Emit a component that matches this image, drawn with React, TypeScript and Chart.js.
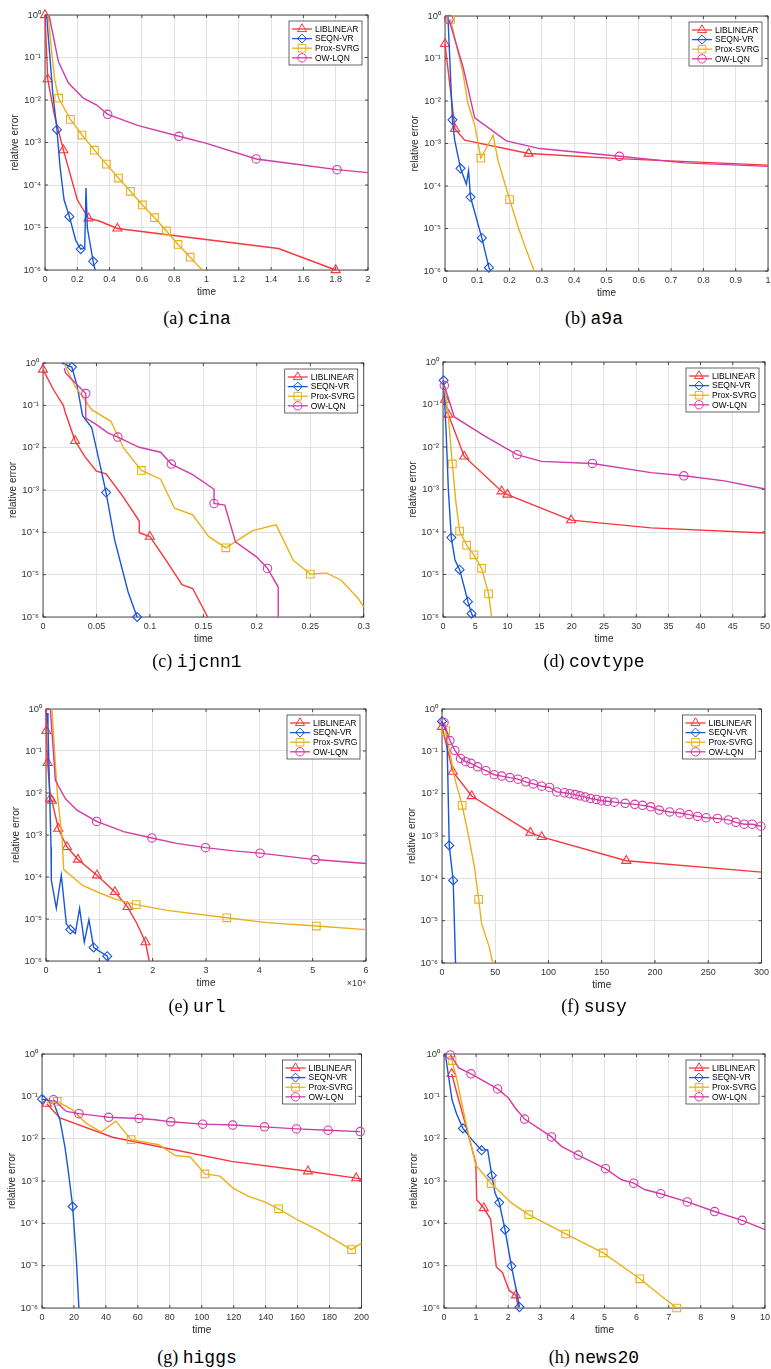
import { useEffect, useRef } from "react";
import { Chart, registerables } from "chart.js";
Chart.register(...registerables);

type Pt = [number, number, number]; // [time, relative error, marker?]

const seriesNames = ["LIBLINEAR", "SEQN-VR", "Prox-SVRG", "OW-LQN"];
const seriesColors = ["#f7363d", "#1a56d8", "#e9b01a", "#d23ca6"];
const seriesMarkers = ["triangle", "rectRot", "rect", "circle"];
const markerRadius = [5.2, 4.5, 5.4, 4.2];
const yDecades = [1e-6, 1e-5, 1e-4, 1e-3, 1e-2, 1e-1, 1];

// (a) cina
const cinaXTicks = [0, 0.2, 0.4, 0.6, 0.8, 1, 1.2, 1.4, 1.6, 1.8, 2];
const cinaLIB: Pt[] = [[0, 1, 1], [0.017, 0.031, 1], [0.058, 4.5e-3, 0], [0.114, 6.6e-4, 1], [0.2, 4.5e-5, 0], [0.269, 1.65e-5, 1], [0.34, 1.4e-5, 0], [0.448, 9.5e-6, 1], [1.446, 3.2e-6, 0], [1.8, 1e-6, 1]];
const cinaSEQN: Pt[] = [[0.01, 1, 0], [0.027, 0.15, 0], [0.048, 0.0145, 0], [0.074, 2e-3, 1], [0.093, 2.7e-4, 0], [0.118, 4.5e-5, 0], [0.151, 1.8e-5, 1], [0.19, 5e-6, 0], [0.221, 3.1e-6, 1], [0.246, 3.3e-6, 0], [0.254, 8.5e-5, 0], [0.262, 1e-5, 0], [0.298, 1.6e-6, 1], [0.31, 1e-6, 0]];
const cinaPROX: Pt[] = [[0.02, 1, 0], [0.04, 0.15, 0], [0.06, 0.03, 0], [0.085, 0.011, 1], [0.157, 3.5e-3, 1], [0.229, 1.5e-3, 1], [0.306, 6.6e-4, 1], [0.38, 3.1e-4, 1], [0.455, 1.46e-4, 1], [0.529, 7.1e-5, 1], [0.603, 3.4e-5, 1], [0.678, 1.7e-5, 1], [0.752, 8.3e-6, 1], [0.824, 4e-6, 1], [0.899, 2e-6, 1], [0.973, 1e-6, 0]];
const cinaOW: Pt[] = [[0.025, 1, 0], [0.083, 0.08, 0], [0.145, 0.025, 0], [0.238, 0.011, 0], [0.32, 7.6e-3, 0], [0.388, 4.6e-3, 1], [0.578, 2.5e-3, 0], [0.829, 1.4e-3, 1], [1.0, 9.5e-4, 0], [1.308, 4.1e-4, 1], [1.58, 3e-4, 0], [1.808, 2.3e-4, 1], [2, 1.95e-4, 0]];

// (b) a9a
const a9aXTicks = [0, 0.1, 0.2, 0.3, 0.4, 0.5, 0.6, 0.7, 0.8, 0.9, 1];
const a9aLIB: Pt[] = [[0.0, 0.22, 1], [0.031, 2.2e-3, 1], [0.061, 1.2e-3, 0], [0.259, 5.8e-4, 1], [0.535, 4.4e-4, 0], [1, 3.1e-4, 0]];
const a9aSEQN: Pt[] = [[0.009, 1, 0], [0.023, 3.6e-3, 1], [0.03, 1.2e-3, 0], [0.048, 2.6e-4, 1], [0.066, 1.1e-4, 0], [0.073, 2.3e-4, 0], [0.079, 5.5e-5, 1], [0.114, 6e-6, 1], [0.136, 1.2e-6, 1], [0.141, 1e-6, 0]];
const a9aPROX: Pt[] = [[0.017, 0.83, 1], [0.056, 0.044, 0], [0.071, 8.7e-3, 0], [0.092, 2.7e-3, 0], [0.111, 4.5e-4, 1], [0.149, 1.56e-3, 0], [0.164, 4e-4, 0], [0.2, 4.8e-5, 1], [0.226, 1.1e-5, 0], [0.252, 3.1e-6, 0], [0.276, 1e-6, 0]];
const a9aOW: Pt[] = [[0.012, 0.83, 1], [0.056, 0.063, 0], [0.092, 4e-3, 0], [0.19, 1.15e-3, 0], [0.293, 7.6e-4, 0], [0.54, 5e-4, 1], [0.742, 3.5e-4, 0], [1, 2.9e-4, 0]];

// (c) ijcnn1
const ijcnnXTicks = [0, 0.05, 0.1, 0.15, 0.2, 0.25, 0.3];
const ijcnnLIB: Pt[] = [[0, 0.7, 1], [0.01, 0.23, 0], [0.019, 0.1, 0], [0.021, 0.066, 0], [0.03, 0.0145, 1], [0.039, 6.2e-3, 0], [0.05, 2.8e-3, 0], [0.059, 2.4e-3, 0], [0.075, 6.9e-4, 0], [0.09, 1.85e-4, 0], [0.09, 9.8e-5, 0], [0.1, 7.9e-5, 1], [0.115, 2.2e-5, 0], [0.13, 5.8e-6, 0], [0.14, 4.7e-6, 0], [0.154, 1e-6, 0]];
const ijcnnSEQN: Pt[] = [[0.0176, 1, 0], [0.027, 0.8, 1], [0.032, 0.28, 0], [0.037, 0.057, 0], [0.0455, 0.03, 0], [0.053, 4.3e-3, 0], [0.059, 8.7e-4, 1], [0.067, 6.6e-5, 0], [0.0796, 3.9e-6, 0], [0.088, 1e-6, 1]];
const ijcnnPROX: Pt[] = [[0.02, 0.95, 0], [0.03, 0.28, 0], [0.0455, 0.079, 0], [0.0635, 0.042, 0], [0.0755, 9.7e-3, 0], [0.092, 2.9e-3, 1], [0.11, 1.8e-3, 0], [0.123, 3.7e-4, 0], [0.14, 2.6e-4, 0], [0.155, 7.9e-5, 0], [0.171, 4.3e-5, 1], [0.196, 1.1e-4, 0], [0.218, 1.5e-4, 0], [0.234, 2.2e-5, 0], [0.25, 1.03e-5, 1], [0.265, 1.1e-5, 0], [0.279, 7.4e-6, 0], [0.295, 2.7e-6, 0], [0.3, 1.7e-6, 0]];
const ijcnnOW: Pt[] = [[0.02, 0.76, 0], [0.021, 0.58, 0], [0.04, 0.19, 1], [0.04, 0.05, 0], [0.05, 0.035, 0], [0.061, 0.022, 0], [0.07, 0.0178, 1], [0.09, 0.0102, 0], [0.11, 7.8e-3, 0], [0.12, 4.1e-3, 1], [0.14, 2.3e-3, 0], [0.16, 1.04e-3, 0], [0.16, 4.8e-4, 1], [0.17, 4.4e-4, 0], [0.18, 6e-5, 0], [0.2, 2.6e-5, 0], [0.21, 1.4e-5, 1], [0.22, 5.1e-6, 0], [0.22, 1e-6, 0]];

// (d) covtype
const covXTicks = [0, 5, 10, 15, 20, 25, 30, 35, 40, 45, 50];
const covLIB: Pt[] = [[0.31, 0.13, 1], [0.83, 0.058, 1], [3.3, 6e-3, 1], [9.1, 9.1e-4, 1], [10, 7.6e-4, 1], [19.9, 1.9e-4, 1], [32.3, 1.25e-4, 0], [50, 9.5e-5, 0]];
const covSEQN: Pt[] = [[0.1, 0.37, 1], [0.5, 0.02, 0], [0.83, 1e-3, 0], [1.29, 7.4e-5, 1], [1.86, 2.2e-5, 0], [2.58, 1.3e-5, 1], [3.4, 4.4e-6, 0], [3.87, 2.3e-6, 1], [4.44, 1.2e-6, 1], [4.7, 1e-6, 0]];
const covPROX: Pt[] = [[0.2, 0.29, 0], [0.83, 0.052, 0], [1.45, 4e-3, 1], [1.96, 5.8e-4, 0], [2.58, 1.05e-4, 1], [3.67, 4.9e-5, 1], [4.8, 2.9e-5, 1], [5.99, 1.4e-5, 1], [7.08, 3.5e-6, 1], [7.54, 1e-6, 0]];
const covOW: Pt[] = [[0.2, 0.28, 1], [1.76, 0.051, 0], [6.5, 0.018, 0], [11.5, 6.6e-3, 1], [15.3, 4.6e-3, 0], [23.2, 4.1e-3, 1], [32.3, 2.5e-3, 0], [37.4, 2.1e-3, 1], [43.7, 1.6e-3, 0], [50, 1.03e-3, 0]];

// (e) url
const urlXTicks = [0, 10000, 20000, 30000, 40000, 50000, 60000];
const urlLIB: Pt[] = [[0, 1, 0], [60, 0.3, 1], [310, 0.052, 1], [810, 7.4e-3, 1], [1100, 6.6e-3, 1], [2310, 1.42e-3, 1], [3930, 5.2e-4, 1], [5990, 2.6e-4, 1], [9550, 1.1e-4, 1], [12920, 4.4e-5, 1], [15290, 1.94e-5, 1], [17040, 7.8e-6, 0], [18660, 2.8e-6, 1], [19350, 1e-6, 0]];
const urlSEQN: Pt[] = [[190, 0.8, 0], [370, 0.38, 0], [940, 5.2e-4, 0], [1000, 8.4e-5, 0], [1935, 1.8e-5, 0], [2870, 1.1e-4, 0], [3810, 7.8e-6, 0], [4560, 5.6e-6, 1], [5490, 4.5e-6, 0], [6300, 1.8e-5, 0], [7180, 2.8e-6, 0], [8050, 9.6e-6, 0], [8930, 2.1e-6, 1], [11490, 1.3e-6, 1], [11700, 1e-6, 0]];
const urlPROX: Pt[] = [[1120, 1, 0], [1750, 0.05, 0], [2180, 8.1e-3, 0], [3000, 9.1e-4, 0], [3310, 1.5e-4, 0], [6870, 6.3e-5, 0], [10180, 4.1e-5, 0], [13300, 2.9e-5, 0], [16920, 2.2e-5, 1], [22660, 1.6e-5, 0], [33900, 1.07e-5, 1], [41390, 8.2e-6, 0], [50690, 6.8e-6, 1], [60000, 5.6e-6, 0]];
const urlOW: Pt[] = [[810, 1, 0], [1750, 0.02, 0], [3620, 7.4e-3, 0], [5800, 3.9e-3, 0], [9490, 2.1e-3, 1], [14540, 1.2e-3, 0], [19850, 8.5e-4, 1], [24530, 6.3e-4, 0], [29900, 5e-4, 1], [35140, 4.2e-4, 0], [40140, 3.7e-4, 1], [50440, 2.6e-4, 1], [60000, 2.1e-4, 0]];

// (f) susy
const susyXTicks = [0, 50, 100, 150, 200, 250, 300];
const susyLIB: Pt[] = [[0, 0.38, 1], [10.2, 0.033, 1], [27.9, 8.8e-3, 1], [83, 1.2e-3, 1], [93.6, 9.5e-4, 1], [173, 2.6e-4, 1], [300, 1.4e-4, 0]];
const susySEQN: Pt[] = [[0, 0.51, 1], [4.6, 0.27, 0], [6.8, 6e-4, 1], [10.5, 8.9e-5, 1], [12.7, 1e-6, 0]];
const susyPROX: Pt[] = [[3.4, 0.31, 1], [8.1, 0.074, 0], [12.4, 0.021, 0], [18.9, 5.3e-3, 1], [24.8, 1.05e-3, 0], [30.4, 1.9e-4, 0], [34.4, 3.2e-5, 1], [37.2, 8.5e-6, 0], [44.3, 2.4e-6, 0], [47.7, 1e-6, 0]];
const susyOW: Pt[] = [[1.9, 0.48, 1], [7.4, 0.18, 1], [12.1, 0.105, 1], [17.4, 0.068, 1], [22.3, 0.057, 1], [27.3, 0.052, 1], [33.5, 0.043, 1], [41.2, 0.035, 1], [49, 0.028, 1], [56.1, 0.026, 1], [63.8, 0.024, 1], [71.3, 0.022, 1], [78.7, 0.019, 1], [85.8, 0.017, 1], [93.6, 0.015, 1], [101, 0.014, 1], [107.8, 0.011, 1], [115, 0.0105, 1], [120, 0.01, 1], [125, 0.0095, 1], [129.5, 0.0089, 1], [134.5, 0.0083, 1], [139.4, 0.0077, 1], [145, 0.0073, 1], [150, 0.0068, 1], [155.3, 0.0066, 1], [161.8, 0.0063, 1], [172, 0.0059, 1], [181, 0.0056, 1], [188.4, 0.0053, 1], [196, 0.0049, 1], [204, 0.0041, 1], [213.8, 0.0037, 1], [223.4, 0.0035, 1], [231.8, 0.0032, 1], [240, 0.0029, 1], [248, 0.0027, 1], [258.7, 0.0026, 1], [269, 0.0024, 1], [276, 0.0021, 1], [283.8, 0.0019, 1], [291.3, 0.0019, 1], [299.4, 0.0017, 1]];

// (g) higgs
const higgsXTicks = [0, 20, 40, 60, 80, 100, 120, 140, 160, 180, 200];
const higgsLIB: Pt[] = [[3, 0.067, 1], [11.2, 0.031, 0], [44.2, 0.0108, 0], [77.3, 6e-3, 0], [118.6, 2.9e-3, 0], [166.5, 1.7e-3, 1], [196.7, 1.17e-3, 1], [200, 1.1e-3, 0]];
const higgsSEQN: Pt[] = [[0, 0.086, 1], [7, 0.076, 0], [11.2, 0.028, 0], [14.3, 6.6e-3, 0], [16.3, 1.9e-3, 0], [19.2, 2.5e-4, 1], [21.5, 1.4e-5, 0], [23.1, 1e-6, 0]];
const higgsPROX: Pt[] = [[2.9, 0.072, 0], [9.5, 0.076, 1], [18.4, 0.05, 0], [27.7, 0.023, 0], [37, 0.0144, 0], [46.3, 0.026, 0], [55.8, 9.5e-3, 1], [73.1, 7.2e-3, 0], [83.5, 4e-3, 0], [92.8, 3.7e-3, 0], [102, 1.47e-3, 1], [111.4, 1.3e-3, 0], [119.6, 6.8e-4, 0], [129, 4.4e-4, 0], [139.3, 3.2e-4, 0], [148.1, 2.2e-4, 1], [160, 1.2e-4, 0], [172.3, 7.1e-5, 0], [193.8, 2.4e-5, 1], [200, 3.4e-5, 0]];
const higgsOW: Pt[] = [[7.2, 0.083, 1], [15.3, 0.044, 0], [23.1, 0.039, 1], [36, 0.034, 0], [41.7, 0.032, 1], [60.7, 0.03, 1], [71, 0.028, 0], [80.6, 0.025, 1], [100.6, 0.022, 1], [119.4, 0.021, 1], [139.3, 0.019, 1], [159.3, 0.017, 1], [179.1, 0.0158, 1], [199.2, 0.0147, 1]];

// (h) news20
const newsXTicks = [0, 1, 2, 3, 4, 5, 6, 7, 8, 9, 10];
const newsLIB: Pt[] = [[0.24, 0.34, 1], [0.4, 0.12, 0], [0.66, 0.023, 0], [0.99, 2.7e-3, 0], [1.02, 3.6e-4, 0], [1.24, 2.3e-4, 1], [1.45, 1.26e-4, 0], [1.63, 9.3e-6, 0], [1.82, 6.9e-6, 0], [2.03, 2.6e-6, 0], [2.24, 2e-6, 1], [2.32, 1e-6, 0]];
const newsSEQN: Pt[] = [[0.04, 1, 0], [0.25, 0.083, 0], [0.4, 0.037, 0], [0.59, 0.0175, 1], [0.87, 9.5e-3, 0], [1.17, 5.3e-3, 1], [1.36, 5.5e-3, 0], [1.49, 1.35e-3, 1], [1.59, 5.2e-4, 0], [1.72, 3.1e-4, 1], [1.9, 7.1e-5, 1], [2.1, 9.8e-6, 1], [2.25, 2.7e-6, 0], [2.35, 1.05e-6, 1]];
const newsPROX: Pt[] = [[0.2, 1, 0], [0.25, 0.7, 1], [0.4, 0.25, 0], [0.66, 0.028, 0], [0.99, 2.4e-3, 0], [1.47, 8.7e-4, 1], [2.11, 3e-4, 0], [2.64, 1.6e-4, 1], [3.79, 5.6e-5, 1], [4.96, 2e-5, 1], [6.1, 4.9e-6, 1], [6.67, 2.2e-6, 0], [7.25, 1e-6, 1]];
const newsOW: Pt[] = [[0.2, 0.95, 1], [0.46, 0.47, 0], [0.84, 0.34, 1], [1.67, 0.15, 1], [2.01, 0.091, 0], [2.22, 0.053, 0], [2.51, 0.029, 1], [3.35, 0.011, 1], [3.66, 6.6e-3, 0], [4.18, 4.1e-3, 1], [5.03, 1.95e-3, 1], [5.53, 1.07e-3, 0], [5.91, 8.9e-4, 1], [6.25, 6.3e-4, 0], [6.75, 5e-4, 1], [7.58, 3.2e-4, 1], [8.43, 1.9e-4, 1], [9.29, 1.18e-4, 1], [10, 7.1e-5, 0]];

type PanelDef = {
  letter: string; name: string; series: Pt[][]; xTicks: number[]; xFactor: number;
  L: number; R: number; T: number; B: number; capX: number; capY: number;
};

const panels: PanelDef[] = [
  { letter: "a", name: "cina", series: [cinaLIB, cinaSEQN, cinaPROX, cinaOW], xTicks: cinaXTicks, xFactor: 1, L: 45, R: 368, T: 15, B: 270, capX: 197, capY: 318 },
  { letter: "b", name: "a9a", series: [a9aLIB, a9aSEQN, a9aPROX, a9aOW], xTicks: a9aXTicks, xFactor: 1, L: 445, R: 768, T: 16, B: 271, capX: 594, capY: 318 },
  { letter: "c", name: "ijcnn1", series: [ijcnnLIB, ijcnnSEQN, ijcnnPROX, ijcnnOW], xTicks: ijcnnXTicks, xFactor: 1, L: 43, R: 366, T: 363, B: 617, capX: 197, capY: 661 },
  { letter: "d", name: "covtype", series: [covLIB, covSEQN, covPROX, covOW], xTicks: covXTicks, xFactor: 1, L: 443, R: 766, T: 362, B: 617, capX: 594, capY: 661 },
  { letter: "e", name: "url", series: [urlLIB, urlSEQN, urlPROX, urlOW], xTicks: urlXTicks, xFactor: 10000, L: 46, R: 366, T: 709, B: 961, capX: 197, capY: 1006 },
  { letter: "f", name: "susy", series: [susyLIB, susySEQN, susyPROX, susyOW], xTicks: susyXTicks, xFactor: 1, L: 442, R: 765, T: 709, B: 963, capX: 594, capY: 1006 },
  { letter: "g", name: "higgs", series: [higgsLIB, higgsSEQN, higgsPROX, higgsOW], xTicks: higgsXTicks, xFactor: 1, L: 42, R: 365, T: 1054, B: 1308, capX: 197, capY: 1357 },
  { letter: "h", name: "news20", series: [newsLIB, newsSEQN, newsPROX, newsOW], xTicks: newsXTicks, xFactor: 1, L: 444, R: 766, T: 1054, B: 1308, capX: 594, capY: 1357 },
];

const SANS = "'Liberation Sans', Arial, Helvetica, sans-serif";
const AXIS = "#262626";

function sup(n: number): string {
  const m: Record<string, string> = { "-": "\u207B", "0": "\u2070", "1": "\u00B9", "2": "\u00B2", "3": "\u00B3", "4": "\u2074", "5": "\u2075", "6": "\u2076", "7": "\u2077", "8": "\u2078", "9": "\u2079" };
  return String(n).split("").map((c) => m[c] || c).join("");
}

function drawMarker(ctx: CanvasRenderingContext2D, style: string, x: number, y: number, r: number) {
  ctx.beginPath();
  if (style === "circle") {
    ctx.arc(x, y, r, 0, Math.PI * 2);
  } else if (style === "triangle") {
    ctx.moveTo(x, y - r);
    ctx.lineTo(x + r * 0.866, y + r * 0.5);
    ctx.lineTo(x - r * 0.866, y + r * 0.5);
    ctx.closePath();
  } else if (style === "rect") {
    const s = r * Math.SQRT1_2;
    ctx.rect(x - s, y - s, 2 * s, 2 * s);
  } else {
    ctx.moveTo(x - r, y);
    ctx.lineTo(x, y - r);
    ctx.lineTo(x + r, y);
    ctx.lineTo(x, y + r);
    ctx.closePath();
  }
  ctx.stroke();
}

function fmt(v: number): string {
  return String(Number(v.toFixed(4)));
}

function Panel({ p }: { p: PanelDef }) {
  const ref = useRef<HTMLCanvasElement>(null);
  const w = p.R - p.L + 53;
  const h = p.B - p.T + 47;

  useEffect(() => {
    if (!ref.current) return;
    const boxPlugin = {
      id: "matlabBox",
      beforeDatasetsDraw(chart: any) {
        const { ctx, chartArea: a, scales } = chart;
        ctx.save();
        ctx.strokeStyle = AXIS;
        ctx.lineWidth = 0.8;
        ctx.beginPath();
        const tl = 3;
        scales.x.ticks.forEach((t: any) => {
          const px = scales.x.getPixelForValue(t.value);
          ctx.moveTo(px, a.bottom); ctx.lineTo(px, a.bottom - tl);
          ctx.moveTo(px, a.top); ctx.lineTo(px, a.top + tl);
        });
        scales.y.ticks.forEach((t: any) => {
          const py = scales.y.getPixelForValue(t.value);
          ctx.moveTo(a.left, py); ctx.lineTo(a.left + tl, py);
          ctx.moveTo(a.right, py); ctx.lineTo(a.right - tl, py);
        });
        ctx.stroke();
        ctx.strokeRect(a.left, a.top, a.right - a.left, a.bottom - a.top);
        ctx.restore();
      },
    };
    const legendPlugin = {
      id: "matlabLegend",
      afterDraw(chart: any) {
        const { ctx, chartArea: a } = chart;
        const bw = 73, bh = 44;
        const bx = a.right - 6 - bw;
        const by = a.top + 6;
        ctx.save();
        ctx.fillStyle = "#ffffff";
        ctx.fillRect(bx, by, bw, bh);
        ctx.strokeStyle = AXIS;
        ctx.lineWidth = 0.7;
        ctx.strokeRect(bx, by, bw, bh);
        ctx.font = `8.5px ${SANS}`;
        ctx.textBaseline = "middle";
        ctx.textAlign = "left";
        seriesNames.forEach((name, i) => {
          const ry = by + 8 + 9.6 * i;
          ctx.strokeStyle = seriesColors[i];
          ctx.lineWidth = 1.3;
          ctx.beginPath();
          ctx.moveTo(bx + 3, ry);
          ctx.lineTo(bx + 23, ry);
          ctx.stroke();
          ctx.lineWidth = 1;
          drawMarker(ctx, seriesMarkers[i], bx + 13, ry, markerRadius[i]);
          ctx.fillStyle = "#000000";
          ctx.fillText(name, bx + 26, ry + 0.5);
        });
        if (p.xFactor !== 1) {
          ctx.fillStyle = "#333333";
          ctx.textAlign = "right";
          ctx.font = `9px ${SANS}`;
          ctx.fillText("\u00D710" + sup(Math.round(Math.log10(p.xFactor))), a.right, a.bottom + 23);
        }
        ctx.restore();
      },
    };

    const datasets = p.series.map((pts, i) => ({
      label: seriesNames[i],
      data: pts.map((q) => ({ x: q[0], y: q[1] })),
      borderColor: seriesColors[i],
      backgroundColor: "rgba(0,0,0,0)",
      borderWidth: 1.4,
      pointStyle: seriesMarkers[i] as any,
      pointRadius: pts.map((q) => (q[2] ? markerRadius[i] : 0)),
      pointHoverRadius: 0,
      pointBorderWidth: 1.1,
      pointBorderColor: seriesColors[i],
      pointBackgroundColor: "rgba(0,0,0,0)",
      tension: 0,
      clip: false as any,
      order: 3 - i,
    }));

    const chart = new Chart(ref.current, {
      type: "line",
      data: { datasets },
      plugins: [boxPlugin, legendPlugin],
      options: {
        animation: false,
        responsive: true,
        maintainAspectRatio: false,
        events: [],
        layout: { padding: { left: 0, top: 12, right: 8, bottom: 0 } },
        plugins: { legend: { display: false }, tooltip: { enabled: false } },
        scales: {
          x: {
            type: "linear",
            min: p.xTicks[0],
            max: p.xTicks[p.xTicks.length - 1],
            afterBuildTicks: (s: any) => { s.ticks = p.xTicks.map((v) => ({ value: v })); },
            afterFit: (s: any) => { s.height = 35; },
            grid: { color: "#e2e2e2", lineWidth: 1, drawTicks: false },
            border: { display: false },
            ticks: {
              autoSkip: false, maxRotation: 0, padding: 4, color: "#333333",
              font: { family: SANS, size: 9 },
              callback: (v: any) => fmt(Number(v) / p.xFactor),
            },
            title: { display: true, text: "time", color: AXIS, font: { family: SANS, size: 10 }, padding: { top: 0, bottom: 7 } },
          },
          y: {
            type: "logarithmic",
            min: 1e-6,
            max: 1,
            afterBuildTicks: (s: any) => { s.ticks = yDecades.map((v) => ({ value: v })); },
            afterFit: (s: any) => { s.width = 45; },
            grid: { color: "#e2e2e2", lineWidth: 1, drawTicks: false },
            border: { display: false },
            ticks: {
              autoSkip: false, padding: 4, color: "#333333",
              font: { family: SANS, size: 9.5 },
              callback: (v: any) => "10" + sup(Math.round(Math.log10(Number(v)))),
            },
            title: { display: true, text: "relative error", color: AXIS, font: { family: SANS, size: 10 }, padding: { top: 9, bottom: 0 } },
          },
        },
      } as any,
    });
    return () => chart.destroy();
  }, []);

  return (
    <div style={{ position: "absolute", left: p.L - 45, top: p.T - 12, width: w, height: h }}>
      <canvas ref={ref} style={{ display: "block" }} />
    </div>
  );
}

function Caption({ p }: { p: PanelDef }) {
  return (
    <div
      style={{
        position: "absolute", left: p.capX - 150, width: 300, top: p.capY - 12, height: 24,
        lineHeight: "24px", textAlign: "center", fontSize: 18, color: "#000",
        fontFamily: "'Liberation Serif', 'Times New Roman', serif", whiteSpace: "nowrap",
      }}
    >
      ({p.letter}){" "}
      <span style={{ fontFamily: "'Liberation Mono', 'DejaVu Sans Mono', monospace" }}>{p.name}</span>
    </div>
  );
}

export default function App() {
  return (
    <div style={{ position: "absolute", left: 0, top: 0, width: 771, height: 1369, overflow: "hidden", background: "#ffffff" }}>
      {panels.map((p) => <Panel key={p.letter} p={p} />)}
      {panels.map((p) => <Caption key={"c" + p.letter} p={p} />)}
    </div>
  );
}
